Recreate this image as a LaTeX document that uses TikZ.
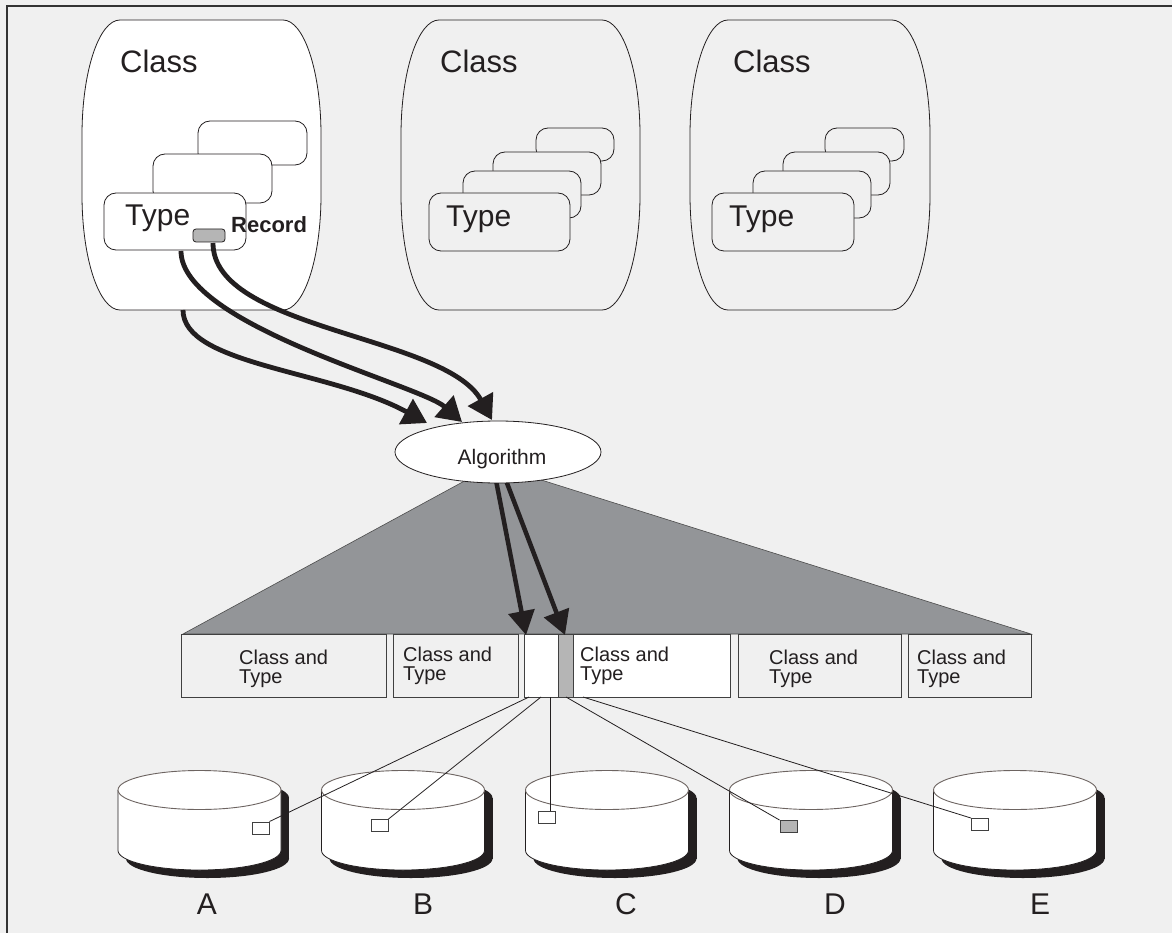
\documentclass[tikz,border=0pt]{standalone}
\usepackage{fontspec}
\setmainfont{Liberation Sans}
\usetikzlibrary{arrows.meta,shapes.geometric,calc}
\definecolor{bg}{HTML}{F0F0F0}
\definecolor{ink}{HTML}{231F20}
\definecolor{tri}{HTML}{939598}
\definecolor{lgray}{HTML}{B5B5B5}
\definecolor{rim}{HTML}{6D6461}
\newcommand\fsz[2]{\fontsize{#1}{#2}\selectfont}
% oval class box with elliptic corners: #1 style, #2 x0, #3 y0, #4 x1, #5 y1
\newcommand\ovalbox[5]{%
 \path[#1] (#2,#3+115) .. controls (#2,#3+51.5) and (#2+17,#3) .. (#2+38,#3)
   -- (#4-38,#3) .. controls (#4-17,#3) and (#4,#3+51.5) .. (#4,#3+115)
   -- (#4,#5-115) .. controls (#4,#5-51.5) and (#4-17,#5) .. (#4-38,#5)
   -- (#2+38,#5) .. controls (#2+17,#5) and (#2,#5-51.5) .. (#2,#5-115) -- cycle;}
% cylinder: #1 name, #2 centre x
\newcommand\cyl[2]{%
 \begin{scope}[shift={(8,8)}]
  \fill[ink] (#2-81.5,790) rectangle (#2+81.5,850.5);
  \fill[ink] (#2,850.5) ellipse [x radius=81.5pt, y radius=19.5pt];
  \fill[ink] (#2,790) ellipse [x radius=81.5pt, y radius=19.5pt];
 \end{scope}
 \path[fill=white, draw=ink, line width=0.8pt] (#2-81.5,790) -- (#2-81.5,850.5)
   .. controls (#2-81.5,861.3) and (#2-45,870) .. (#2,870)
   .. controls (#2+45,870) and (#2+81.5,861.3) .. (#2+81.5,850.5) -- (#2+81.5,790);
 \node[cyltop] (#1) at (#2,790) {};
}
\begin{document}
\begin{tikzpicture}[x=1pt,y=-1pt,
  classline/.style={draw=ink, line width=0.8pt},
  tbox/.style={rectangle, rounded corners=12pt, draw=ink, line width=0.8pt, inner sep=0pt},
  rowbox/.style={rectangle, draw=black!75, line width=1pt, inner sep=0pt, minimum height=63pt},
  rowtxt/.style={anchor=west, align=left, inner sep=0pt, font=\fsz{20}{19}, text=ink},
  bigarrow/.style={draw=ink, line width=4.8pt, -{Triangle[length=24pt,width=28pt]}},
  downarrow/.style={draw=ink, line width=4.5pt, -{Triangle[length=24pt,width=26pt]}},
  thinline/.style={draw=ink, line width=0.8pt},
  sq/.style={rectangle, draw=black!75, fill=white, line width=0.9pt, minimum width=17pt, minimum height=12pt, inner sep=0pt},
  cyltop/.style={ellipse, fill=white, draw=rim, line width=0.9pt, minimum width=163pt, minimum height=39pt, inner sep=0pt},
  lbl/.style={anchor=base, inner sep=0pt, text=ink}
]
\useasboundingbox (0,0) rectangle (1172,933);
\fill[bg] (0,0) rectangle (1172,933);
\draw[draw=black!80, line width=2pt] (7,933) -- (7,6) -- (1172,6);

% ---------- class boxes ----------
\ovalbox{fill=white, classline}{82}{20}{321}{310}
\ovalbox{fill=bg, classline}{401}{20}{640}{310}
\ovalbox{fill=bg, classline}{690}{20}{930}{310}

\node[lbl, anchor=base west, font=\fsz{31}{31}] (cl1) at (120,73) {Class};
\node[lbl, anchor=base west, font=\fsz{31}{31}] (cl2) at (440,73) {Class};
\node[lbl, anchor=base west, font=\fsz{31}{31}] (cl3) at (733,73) {Class};

% class 1 types
\node[tbox, fill=white, minimum width=109pt, minimum height=44pt] (c1r3) at (252.5,143) {};
\node[tbox, fill=white, minimum width=119pt, minimum height=49pt] (c1r2) at (212.5,178.5) {};
\node[tbox, fill=white, minimum width=142pt, minimum height=57pt] (c1t) at (175,221.5) {};
\node[lbl, anchor=base west, font=\fsz{30}{30}] (c1tl) at (125,226) {Type};
\node[rectangle, rounded corners=3pt, fill=lgray, draw=ink, line width=0.8pt, minimum width=32pt, minimum height=13pt, inner sep=0pt] (rec) at (209,235.5) {};
\node[lbl, anchor=base west, font=\fsz{22}{22}\bfseries] (recl) at (231,233) {Record};

% class 2 types
\node[tbox, fill=bg, minimum width=78pt, minimum height=33pt] (c2r4) at (575,144.5) {};
\node[tbox, fill=bg, minimum width=108pt, minimum height=43pt] (c2r3) at (547,173.5) {};
\node[tbox, fill=bg, minimum width=118pt, minimum height=47pt] (c2r2) at (522,194.5) {};
\node[tbox, fill=bg, minimum width=141pt, minimum height=58pt] (c2t) at (499.5,222) {};
\node[lbl, anchor=base west, font=\fsz{30}{30}] (c2tl) at (446,227) {Type};

% class 3 types
\node[tbox, fill=bg, minimum width=79pt, minimum height=33pt] (c3r4) at (864.5,144.5) {};
\node[tbox, fill=bg, minimum width=107pt, minimum height=43pt] (c3r3) at (836.5,173.5) {};
\node[tbox, fill=bg, minimum width=118pt, minimum height=47pt] (c3r2) at (812,194.5) {};
\node[tbox, fill=bg, minimum width=142pt, minimum height=58pt] (c3t) at (783,222) {};
\node[lbl, anchor=base west, font=\fsz{30}{30}] (c3tl) at (729,227) {Type};

% ---------- fan triangle ----------
\fill[tri, draw=black!70, line width=0.6pt] (183,634) -- (470,478) -- (535,478) -- (1031,634) -- cycle;

% ---------- row of boxes ----------
\node[rowbox, fill=bg, minimum width=205pt] (b1) at (283.5,665.5) {};
\node[rowbox, fill=bg, minimum width=125pt] (b2) at (455.5,665.5) {};
\node[rowbox, fill=white, minimum width=34pt] (slot) at (541,665.5) {};
\node[rowbox, fill=lgray, minimum width=15pt] (strip) at (565.5,665.5) {};
\node[rowbox, fill=white, minimum width=157pt] (b3) at (651.5,665.5) {};
\node[rowbox, fill=bg, minimum width=163pt] (b4) at (819.5,665.5) {};
\node[rowbox, fill=bg, minimum width=123pt] (b5) at (969.5,665.5) {};
\node[rowtxt] (t1) at (239,669) {Class and\\Type};
\node[rowtxt] (t2) at (403,666) {Class and\\Type};
\node[rowtxt] (t3) at (580,666) {Class and\\Type};
\node[rowtxt] (t4) at (769,669) {Class and\\Type};
\node[rowtxt] (t5) at (917,669) {Class and\\Type};

% ---------- algorithm ----------
\coordinate (d1) at (494,470);
\coordinate (d2) at (502,470);
\coordinate (slotTip) at (526,635);
\coordinate (stripTip) at (565,635);
\draw[downarrow] (d1) -- (slotTip);
\draw[downarrow] (d2) -- (stripTip);
\node[ellipse, fill=white, draw=ink, line width=0.8pt, minimum width=206pt, minimum height=62pt, inner sep=0pt] (alg) at (498,452) {};
\node[lbl, font=\fsz{21}{21}] (algl) at (502,464) {Algorithm};

% curved arrows into the algorithm
\coordinate (s1) at (183,310);
\coordinate (s2) at (181,251);
\coordinate (s3) at (213,243);
\coordinate (tip1) at (427,423);
\coordinate (tip2) at (462,422);
\coordinate (tip3) at (492,420);
\draw[bigarrow] (s1) .. controls (183,365) and (330,370) .. (tip1);
\draw[bigarrow] (s2) .. controls (181,325) and (420,385) .. (tip2);
\draw[bigarrow] (s3) .. controls (213,330) and (445,335) .. (tip3);

% ---------- cylinders ----------
\cyl{cA}{199.5}
\cyl{cB}{403}
\cyl{cC}{607}
\cyl{cD}{811}
\cyl{cE}{1015}

\node[sq] (sqA) at (260.5,828) {};
\node[sq] (sqB) at (379.5,825.5) {};
\node[sq] (sqC) at (547,817) {};
\node[sq, fill=lgray] (sqD) at (788.5,826.5) {};
\node[sq] (sqE) at (980,824.5) {};

\coordinate (oA) at (529,697);
\coordinate (oB) at (541,697);
\coordinate (oC) at (550,697);
\coordinate (oD) at (566,697);
\coordinate (oE) at (583,697);
\draw[thinline] (oA) -- (sqA.north east);
\draw[thinline] (oB) -- (sqB.north east);
\draw[thinline] (oC) -- (oC |- sqC.north);
\draw[thinline] (oD) -- (sqD.north west);
\draw[thinline] (oE) -- (sqE.north west);

\node[lbl, font=\fsz{30}{30}] (lA) at (207,914) {A};
\node[lbl, font=\fsz{30}{30}] (lB) at (423,914) {B};
\node[lbl, font=\fsz{30}{30}] (lC) at (626,914) {C};
\node[lbl, font=\fsz{30}{30}] (lD) at (835,914) {D};
\node[lbl, font=\fsz{30}{30}] (lE) at (1040,914) {E};
\end{tikzpicture}
\end{document}
